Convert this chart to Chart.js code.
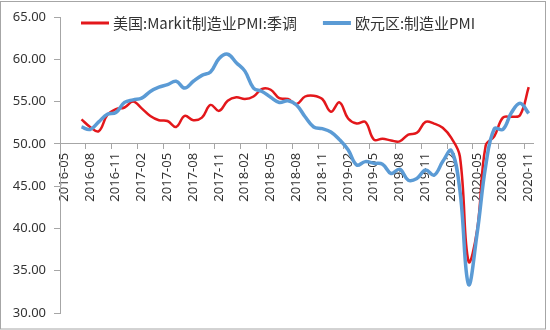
<!DOCTYPE html>
<html>
<head>
<meta charset="utf-8">
<script src="https://cdn.jsdelivr.net/npm/chart.js@4"></script>
<style>
  body { margin: 0; background: #fff; }
</style>
</head>
<body>
<canvas id="pmiChart" width="550" height="330"></canvas>
<script>
const months = [
  "2016-05", "2016-06", "2016-07", "2016-08", "2016-09", "2016-10", "2016-11", "2016-12",
  "2017-01", "2017-02", "2017-03", "2017-04", "2017-05", "2017-06", "2017-07", "2017-08", "2017-09", "2017-10", "2017-11", "2017-12",
  "2018-01", "2018-02", "2018-03", "2018-04", "2018-05", "2018-06", "2018-07", "2018-08", "2018-09", "2018-10", "2018-11", "2018-12",
  "2019-01", "2019-02", "2019-03", "2019-04", "2019-05", "2019-06", "2019-07", "2019-08", "2019-09", "2019-10", "2019-11", "2019-12",
  "2020-01", "2020-02", "2020-03", "2020-04", "2020-05", "2020-06", "2020-07", "2020-08", "2020-09", "2020-10", "2020-11",
];

const usPmi = [
  null, null, 52.9, 52.0, 51.5, 53.4, 54.1, 54.3,
  55.0, 54.2, 53.3, 52.8, 52.7, 52.0, 53.3, 52.8, 53.1, 54.6, 53.9, 55.1,
  55.5, 55.3, 55.6, 56.5, 56.4, 55.4, 55.3, 54.7, 55.6, 55.7, 55.3, 53.8,
  54.9, 53.0, 52.4, 52.6, 50.5, 50.6, 50.4, 50.3, 51.1, 51.3, 52.6, 52.4,
  51.9, 50.7, 48.5, 36.1, 39.8, 49.8, 50.9, 53.1, 53.2, 53.4, 56.7,
];

const euPmi = [
  null, null, 52.0, 51.7, 52.6, 53.5, 53.7, 54.9,
  55.2, 55.4, 56.2, 56.7, 57.0, 57.4, 56.6, 57.4, 58.1, 58.5, 60.1, 60.6,
  59.6, 58.6, 56.6, 56.2, 55.5, 54.9, 55.1, 54.6, 53.2, 52.0, 51.8, 51.4,
  50.5, 49.3, 47.5, 47.9, 47.7, 47.6, 46.5, 47.0, 45.7, 45.9, 46.9, 46.3,
  47.9, 49.2, 44.5, 33.4, 39.4, 47.4, 51.8, 51.7, 53.7, 54.8, 53.6,
];

const tickStep = 3; // one label per quarter
const axisColor = "#a6a6a6";

// each month sits in the middle of its slot
const toPoints = (values) => values.map((v, i) => ({ x: i + 0.5, y: v }));

const framePlugin = {
  id: "frame",
  beforeDraw: (chart) => {
    const ctx = chart.ctx;
    ctx.save();
    ctx.fillStyle = "#fff";
    ctx.fillRect(0, 0, chart.width, chart.height);
    ctx.strokeStyle = axisColor;
    ctx.lineWidth = 1;
    ctx.strokeRect(0.5, 1.5, chart.width - 5, chart.height - 2.5);
    ctx.restore();
  },
};

// one-row legend laid over the top of the plot
const topLegend = {
  id: "topLegend",
  afterDraw: (chart) => {
    const ctx = chart.ctx;
    const y = chart.chartArea.top + 6;
    let x = chart.chartArea.left + 21;
    ctx.save();
    ctx.font = "15px 'Noto Sans CJK SC', sans-serif";
    ctx.textBaseline = "middle";
    ctx.fillStyle = "#333";
    chart.data.datasets.forEach((ds) => {
      ctx.strokeStyle = ds.borderColor;
      ctx.lineWidth = ds.borderWidth + 0.5;
      ctx.beginPath();
      ctx.moveTo(x, y);
      ctx.lineTo(x + 28, y);
      ctx.stroke();
      x += 32;
      ctx.fillText(ds.label, x, y);
      x += ctx.measureText(ds.label).width + 26;
    });
    ctx.restore();
  },
};

Chart.defaults.font.family = "'Noto Sans', 'Noto Sans CJK SC', sans-serif";
Chart.defaults.font.size = 13;
Chart.defaults.color = "#333";

new Chart(document.getElementById("pmiChart"), {
  type: "line",
  data: {
    datasets: [
      {
        label: "美国:Markit制造业PMI:季调",
        data: toPoints(usPmi),
        borderColor: "#e3171b",
        borderWidth: 2.5,
        pointRadius: 0,
        tension: 0.4,
        order: 1,
      },
      {
        label: "欧元区:制造业PMI",
        data: toPoints(euPmi),
        borderColor: "#5b9bd5",
        borderWidth: 3.5,
        pointRadius: 0,
        tension: 0.4,
        order: 0,
      },
    ],
  },
  options: {
    responsive: false,
    animation: false,
    devicePixelRatio: 1,
    layout: { padding: { top: 17, right: 17, bottom: 17, left: 0 } },
    plugins: {
      legend: { display: false },
      tooltip: { enabled: false },
    },
    scales: {
      x: {
        type: "linear",
        min: 0,
        max: months.length,
        position: { y: 50 },
        afterBuildTicks: (scale) => {
          scale.ticks = months
            .map((m, i) => i)
            .filter((i) => i % tickStep === 0)
            .map((i) => ({ value: i }));
        },
        ticks: {
          autoSkip: false,
          minRotation: 90,
          maxRotation: 90,
          padding: 4,
          labelOffset: 4,
          callback: (value) => months[value],
        },
        grid: { drawOnChartArea: false, tickLength: 5, color: axisColor },
        border: { color: axisColor },
      },
      y: {
        min: 30,
        max: 65,
        afterFit: (scale) => {
          scale.width = 60;
        },
        ticks: {
          stepSize: 5,
          padding: 8,
          callback: (value) => value.toFixed(2),
        },
        grid: { drawOnChartArea: false, tickLength: 6, color: axisColor },
        border: { color: axisColor },
      },
    },
  },
  plugins: [framePlugin, topLegend],
});
</script>
</body>
</html>
